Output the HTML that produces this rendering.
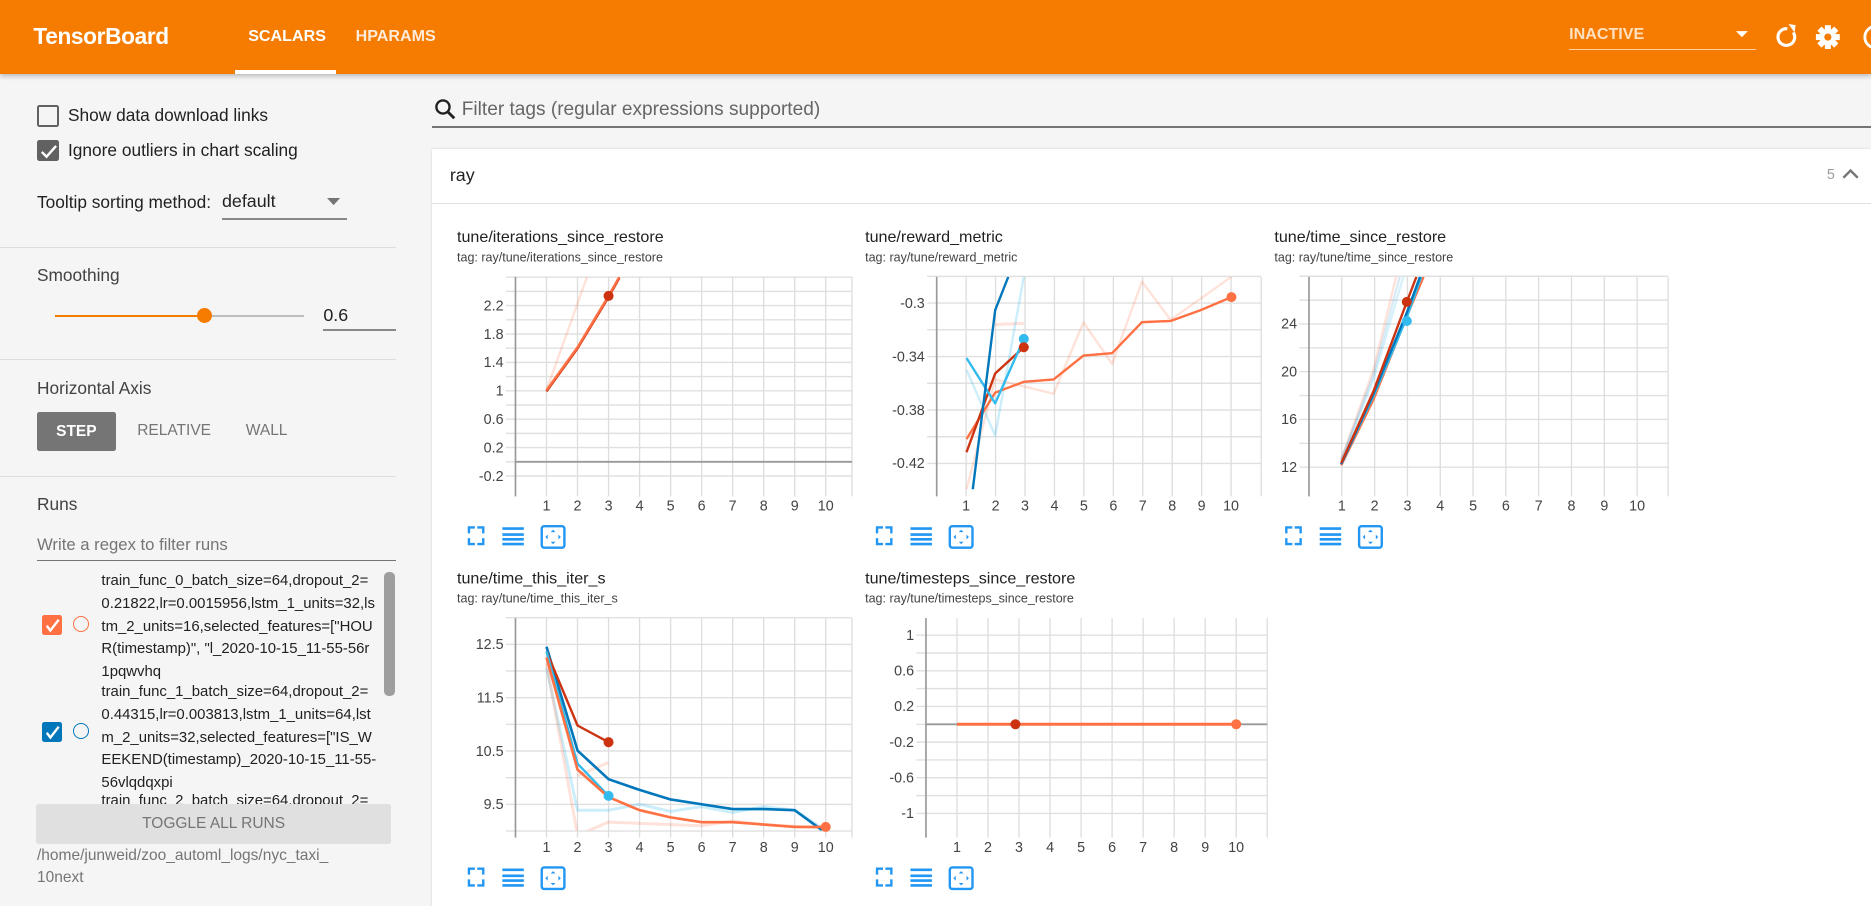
<!DOCTYPE html>
<html><head><meta charset="utf-8">
<style>
html,body{margin:0;padding:0;width:1871px;height:906px;overflow:hidden;background:#f5f5f5;}
#root{zoom:1.19324;position:relative;width:1568px;height:760px;font-family:"Liberation Sans",sans-serif;color:#212121;}
.a{position:absolute;white-space:nowrap;}
.hdr{position:absolute;left:0;top:0;width:1568px;height:62px;background:#f57c00;box-shadow:0 2px 4px rgba(0,0,0,.25);}
.cb{position:absolute;width:15px;height:15px;border:2px solid #616161;border-radius:2px;box-sizing:content-box;}
.hr{position:absolute;left:0;width:332px;height:1px;background:#ddd;}
.runt{font-size:12.5px;line-height:19px;color:#212121;}
</style></head><body><div id="root">
<div class="hdr"></div>
<div class="a" style="left:28px;top:19px;font-size:19px;font-weight:bold;color:#fff;letter-spacing:-0.3px">TensorBoard</div>
<div class="a" style="left:208px;top:23px;font-size:13.5px;font-weight:bold;color:#fff">SCALARS</div>
<div class="a" style="left:298px;top:23px;font-size:13.5px;font-weight:bold;color:rgba(255,255,255,.85)">HPARAMS</div>
<div class="a" style="left:197px;top:59px;width:85px;height:3px;background:#fff"></div>
<div class="a" style="left:1315px;top:21px;font-size:13.5px;font-weight:bold;color:#ffe0c0">INACTIVE</div>
<div class="a" style="left:1315px;top:41px;width:157px;height:1px;background:#ffd0a0"></div>
<svg class="a" style="left:1450px;top:15px" width="118" height="32">
<path d="M5 11 l10 0 l-5 5z" fill="#fff"/>
<path d="M48 9 a7 7 0 1 0 5 3" stroke="#fff" stroke-width="2.6" fill="none"/><path d="M49 5 l6 1 -1 6z" fill="#fff"/>
<g transform="translate(82,16)" fill="#fff"><circle r="7"/><rect x="-2.5" y="-10" width="5" height="20"/><rect x="-2.5" y="-10" width="5" height="20" transform="rotate(45)"/><rect x="-2.5" y="-10" width="5" height="20" transform="rotate(90)"/><rect x="-2.5" y="-10" width="5" height="20" transform="rotate(135)"/><circle r="3" fill="#f57c00"/></g>
<circle cx="122" cy="16" r="9" stroke="#fff" stroke-width="2.4" fill="none"/>
</svg>

<!-- sidebar -->
<div class="cb" style="left:31px;top:88px;"></div>
<div class="a" style="left:57px;top:88px;font-size:14.5px">Show data download links</div>
<div class="cb" style="left:31px;top:117px;background:#616161;"></div>
<svg class="a" style="left:31px;top:117px" width="19" height="19"><path d="M4 10 l4 4 l8 -9" stroke="#fff" stroke-width="2" fill="none"/></svg>
<div class="a" style="left:57px;top:117px;font-size:14.5px">Ignore outliers in chart scaling</div>
<div class="a" style="left:31px;top:161px;font-size:14.5px">Tooltip sorting method:</div>
<div class="a" style="left:186px;top:160px;font-size:15px">default</div>
<div class="a" style="left:186px;top:183px;width:105px;height:1px;background:#888"></div>
<svg class="a" style="left:274px;top:166px" width="12" height="8"><path d="M0 0h11l-5.5 6z" fill="#757575"/></svg>
<div class="hr" style="top:207px"></div>
<div class="a" style="left:31px;top:222px;font-size:14.5px;color:#424242">Smoothing</div>
<div class="a" style="left:46px;top:264px;width:126px;height:2px;background:#f57c00"></div>
<div class="a" style="left:172px;top:264px;width:83px;height:2px;background:#bdbdbd"></div>
<div class="a" style="left:165px;top:258px;width:13px;height:13px;border-radius:50%;background:#f57c00"></div>
<div class="a" style="left:271px;top:256px;font-size:15px">0.6</div>
<div class="a" style="left:271px;top:276px;width:61px;height:1px;background:#888"></div>
<div class="hr" style="top:301px"></div>
<div class="a" style="left:31px;top:317px;font-size:14.5px;color:#424242">Horizontal Axis</div>
<div class="a" style="left:31px;top:345px;width:66px;height:33px;background:#757575;border-radius:2px;color:#fff;font-size:13px;font-weight:bold;text-align:center;line-height:33px">STEP</div>
<div class="a" style="left:115px;top:354px;font-size:13px;color:#757575">RELATIVE</div>
<div class="a" style="left:206px;top:354px;font-size:13px;color:#757575">WALL</div>
<div class="hr" style="top:399px"></div>
<div class="a" style="left:31px;top:414px;font-size:14.5px;color:#424242">Runs</div>
<div class="a" style="left:31px;top:448px;font-size:14px;color:#757575">Write a regex to filter runs</div>
<div class="a" style="left:31px;top:469px;width:301px;height:1px;background:#757575"></div>
<div class="a" style="left:0;top:478px;width:332px;height:196px;overflow:hidden">
 <div class="a" style="left:35px;top:37px;width:17px;height:17px;background:#ff7043;border-radius:2px"></div>
 <svg class="a" style="left:35px;top:37px" width="17" height="17"><path d="M4 9 l3 4 l7 -9" stroke="#fff" stroke-width="2" fill="none"/></svg>
 <div class="a" style="left:61px;top:38px;width:12px;height:12px;border:1.5px solid #ff7043;border-radius:50%"></div>
 <div class="a runt" style="left:85px;top:0px">train_func_0_batch_size=64,dropout_2=<br>0.21822,lr=0.0015956,lstm_1_units=32,ls<br>tm_2_units=16,selected_features=["HOU<br>R(timestamp)", "l_2020-10-15_11-55-56r<br>1pqwvhq</div>
 <div class="a" style="left:35px;top:127px;width:17px;height:17px;background:#0077bb;border-radius:2px"></div>
 <svg class="a" style="left:35px;top:127px" width="17" height="17"><path d="M4 9 l3 4 l7 -9" stroke="#fff" stroke-width="2" fill="none"/></svg>
 <div class="a" style="left:61px;top:128px;width:12px;height:12px;border:1.5px solid #0077bb;border-radius:50%"></div>
 <div class="a runt" style="left:85px;top:93px">train_func_1_batch_size=64,dropout_2=<br>0.44315,lr=0.003813,lstm_1_units=64,lst<br>m_2_units=32,selected_features=["IS_W<br>EEKEND(timestamp)_2020-10-15_11-55-<br>56vlqdqxpi</div>
 <div class="a runt" style="left:85px;top:184px">train_func_2_batch_size=64,dropout_2=</div>
 <div class="a" style="left:322px;top:1px;width:9px;height:104px;background:#9e9e9e;border-radius:4px"></div>
</div>
<div class="a" style="left:30px;top:674px;width:298px;height:33px;background:#e0e0e0;border-radius:2px;color:#757575;font-size:13px;text-align:center;line-height:33px">TOGGLE ALL RUNS</div>
<div class="a" style="left:31px;top:710px;font-size:13px;color:#757575">/home/junweid/zoo_automl_logs/nyc_taxi_</div>
<div class="a" style="left:31px;top:728px;font-size:13px;color:#757575">10next</div>

<!-- main -->
<svg class="a" style="left:364px;top:82px" width="20" height="20"><circle cx="7.5" cy="7.5" r="5.5" stroke="#212121" stroke-width="2" fill="none"/><path d="M11.5 11.5 L17 17" stroke="#212121" stroke-width="2.4"/></svg>
<div class="a" style="left:387px;top:83px;font-size:16px;color:#666">Filter tags (regular expressions supported)</div>
<div class="a" style="left:362px;top:106px;width:1206px;height:1px;background:#757575"></div>
<div class="a" style="left:362px;top:125px;width:1206px;height:640px;background:#fff;box-shadow:0 0 2px rgba(0,0,0,.15)"></div>
<div class="a" style="left:377px;top:138px;font-size:15px">ray</div>
<div class="a" style="left:362px;top:170px;width:1206px;height:1px;background:#e0e0e0"></div>
<div class="a" style="left:1531px;top:140px;font-size:12px;color:#9e9e9e">5</div>
<svg class="a" style="left:1543px;top:140px" width="16" height="12"><path d="M2 9 l6 -6 l6 6" stroke="#757575" stroke-width="2" fill="none"/></svg>

<svg id="ch" class="a" style="left:0;top:0" width="1568" height="760" font-family="Liberation Sans, sans-serif"></svg>
</div>
<script>
var S=document.getElementById('ch'),h='';
function T(x,y,t,s,c,a){h+='<text x="'+x+'" y="'+y+'" font-size="'+s+'" fill="'+c+'"'+(a?' text-anchor="'+a+'"':'')+'>'+t+'</text>';}
function L(x1,y1,x2,y2,c,w){h+='<line x1="'+x1+'" y1="'+y1+'" x2="'+x2+'" y2="'+y2+'" stroke="'+c+'" stroke-width="'+(w||1)+'"/>';}
function chart(o){
 T(o.tx,o.ty,o.title,13.5,'#212121');T(o.tx,o.ty+16,'tag: ray/'+o.title,10.5,'#424242');
 var top=o.top,bot=o.top+178,x0=o.x0,dx=o.dx,r=o.r;
 h+='<defs><clipPath id="c'+o.id+'"><rect x="'+x0+'" y="'+top+'" width="'+(r-x0)+'" height="'+(bot-top)+'"/></clipPath></defs>';
 for(var v=o.g0;v<=o.g1+1e-9;v+=o.gs){var y=o.f(v);if(y<top-0.5||y>bot+0.5)continue;L(x0-8,y,r,y,'#e0e0e0',1.2);}
 for(var i=0;i<=10;i++){var x=x0+i*dx;L(x,top,x,bot+6,i==0?'#999':'#ddd',i==0?1.4:1.1);if(i>0)T(x,bot+18,i,12,'#444','middle');}
 L(r,top,r,bot+6,'#ddd',1.1);
 o.lab.forEach(function(v){T(x0-10,o.f(v)+4,v,12,'#444','end');});
 if(o.zero)L(x0,o.f(0),r,o.f(0),'#999',1.6);
 h+='<g clip-path="url(#c'+o.id+')" fill="none" stroke-linejoin="round">';
 o.lines.forEach(function(l){h+='<polyline points="'+l[1]+'" stroke="'+l[0]+'" stroke-width="'+(l[2]||2)+'" opacity="'+(l[3]||1)+'"/>';});
 h+='</g>';
 (o.dots||[]).forEach(function(d){h+='<circle cx="'+d[0]+'" cy="'+d[1]+'" r="4.2" fill="'+d[2]+'"/>';});
 var iy=bot+39,ix=o.tx+16;
 h+='<g fill="none" stroke="#2196f3" stroke-width="2"><path d="M'+(ix-6)+' '+(iy-2)+'v-5h5M'+(ix+1)+' '+(iy-7)+'h5v5M'+(ix+6)+' '+(iy+2)+'v5h-5M'+(ix-1)+' '+(iy+7)+'h-5v-5"/>'+
 '<path d="M'+(ix+22)+' '+(iy-6)+'h18M'+(ix+22)+' '+(iy-1)+'h18M'+(ix+22)+' '+(iy+3)+'h18M'+(ix+22)+' '+(iy+7)+'h18" stroke-width="2.2"/>'+
 '<rect x="'+(ix+55)+'" y="'+(iy-8)+'" width="19" height="18" rx="2"/></g>'+
 '<g fill="#2196f3"><path d="M'+(ix+64.5)+' '+(iy-5)+'l2 2h-4zM'+(ix+64.5)+' '+(iy+7)+'l2 -2h-4zM'+(ix+58)+' '+(iy+1)+'l2 -2v4zM'+(ix+71)+' '+(iy+1)+'l-2 -2v4z"/></g>';
}
var OR='#ff7043',DR='#cc3311',LB='#33bbee',DB='#0077bb';
chart({id:1,tx:383,ty:203,title:'tune/iterations_since_restore',top:232,x0:432,dx:26,r:714,
 f:function(v){return 387-v*59.5},g0:-0.4,g1:2.6,gs:0.2,lab:[-0.2,0.2,0.6,1,1.4,1.8,2.2],zero:1,
 lines:[[OR,'458,327 492,232',2,0.2],[DR,'458,328 484,292 510,249 519,233',2],[OR,'458,327 484,291 510,248 519,232',2]],dots:[[510,248,DR]]});
chart({id:2,tx:725,ty:203,title:'tune/reward_metric',top:232,x0:785,dx:24.67,r:1057,
 f:function(v){return 254+(-0.3-v)*1120},g0:-0.44,g1:-0.28,gs:0.02,lab:[-0.3,-0.34,-0.38,-0.42],
 lines:[[OR,'810,410 834,318 883,330 908,270 932,305 957,236 981,268 1032,232',2,0.2],[OR,'834,272 858,271',2.5,0.2],[LB,'810,310 834,365 858,232',2,0.25],
 [OR,'810,368 834,329 858,320 883,318 908,298 932,296 957,270 981,269 1006,260 1032,249',2],[DR,'810,379 834,313 858,291',2],[LB,'810,300 834,338 858,284',2],[DB,'815,412 834,260 845,232',2]],
 dots:[[858,284,LB],[858,291,DR],[1032,249,OR]]});
chart({id:3,tx:1068,ty:203,title:'tune/time_since_restore',top:232,x0:1097,dx:27.5,r:1398,
 f:function(v){return 271.5+(24-v)*10},g0:10,g1:28,gs:2,lab:[12,16,20,24],
 lines:[[OR,'1124,385 1151,310 1170,232',2,0.2],[LB,'1124,386 1151,318 1176,232',2,0.2],[DB,'1124,386 1151,314 1173,232',2,0.15],
 [OR,'1124,390 1151,335 1179,265 1193,232',2],[LB,'1124,389 1151,332 1179,266 1191,232',2],[DB,'1124,389 1151,330 1179,262 1190,232',2],[DR,'1124,388 1151,328 1179,253 1187,232',2]],
 dots:[[1179,269,LB],[1179,253,DR]]});
chart({id:4,tx:383,ty:489,title:'tune/time_this_iter_s',top:518,x0:432,dx:26,r:714,
 f:function(v){return 540+(12.5-v)*44.7},g0:9,g1:13,gs:0.5,lab:[9.5,10.5,11.5,12.5],
 lines:[[LB,'458,560 484,679 510,679 536,674 562,680 588,676 614,681 640,676 666,679 692,696',2.5,0.25],[OR,'458,556 484,700',2.5,0.2],[OR,'484,650 510,639',2.5,0.2],[OR,'484,700 510,689 536,690 588,692 614,688 640,691 692,694',2.5,0.2],
 [DB,'458,542 484,629 510,653 536,662 562,670 588,674 614,678 640,678 666,679 692,698',2.2],[DR,'458,546 484,608 510,622',2],[LB,'458,546 484,640 510,667',2],
 [OR,'458,551 484,645 510,668 536,679 562,685 588,689 614,689 640,691 666,693 692,693',2.2]],
 dots:[[510,667,LB],[510,622,DR],[692,693,OR]]});
chart({id:5,tx:725,ty:489,title:'tune/timesteps_since_restore',top:518,x0:776,dx:26,r:1062,
 f:function(v){return 607-v*74.7},g0:-1.2,g1:1.2,gs:0.2,lab:[1,0.6,0.2,-0.2,-0.6,-1],zero:1,
 lines:[[OR,'802,607 1036,607',2.5]],dots:[[851,607,DR],[1036,607,OR]]});
S.innerHTML=h;
</script>
</body></html>
